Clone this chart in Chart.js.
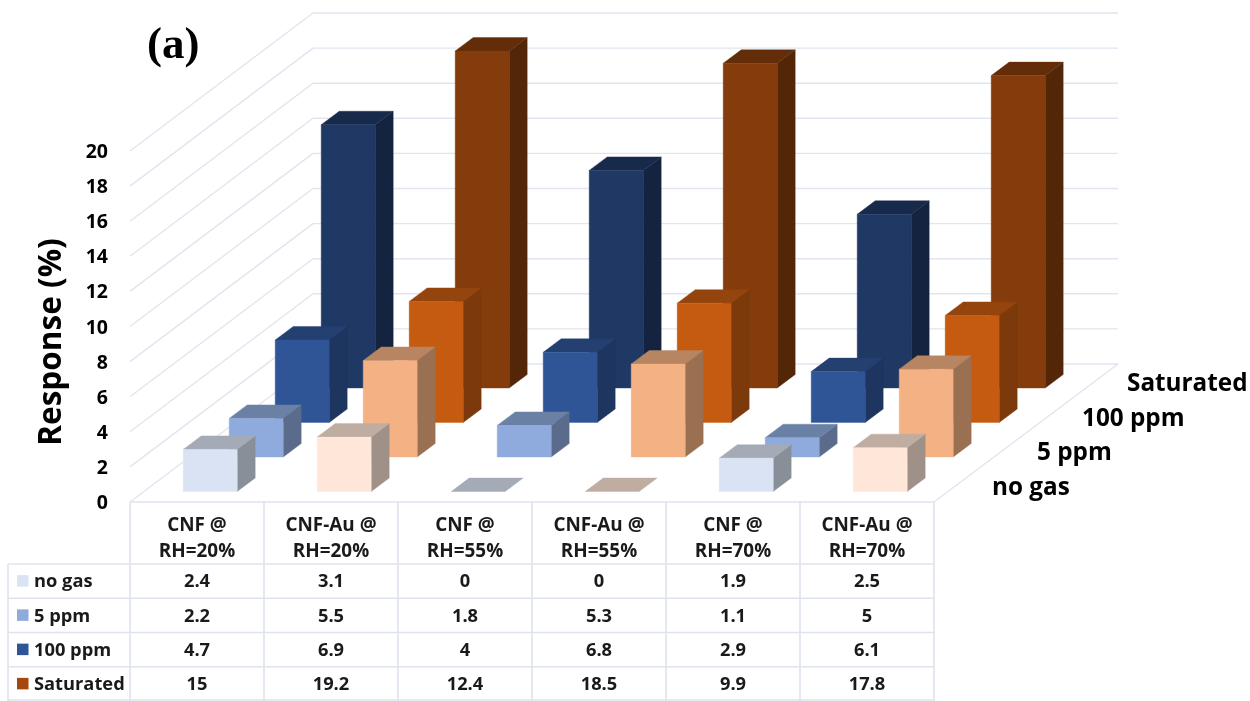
<!DOCTYPE html>
<html>
<head>
<meta charset="utf-8">
<style>html,body{margin:0;padding:0;background:#fff}canvas{display:block}</style>
<script src="https://cdn.jsdelivr.net/npm/chart.js@4"></script>
</head>
<body>
<canvas id="c" width="1250" height="701"></canvas>
<script>
const categories = [["CNF @","RH=20%"],["CNF-Au @","RH=20%"],["CNF @","RH=55%"],["CNF-Au @","RH=55%"],["CNF @","RH=70%"],["CNF-Au @","RH=70%"]];
const seriesNames = ["no gas","5 ppm","100 ppm","Saturated"];
const noGas = [2.4,3.1,0,0,1.9,2.5];
const ppm5 = [2.2,5.5,1.8,5.3,1.1,5];
const ppm100 = [4.7,6.9,4,6.8,2.9,6.1];
const saturated = [15,19.2,12.4,18.5,9.9,17.8];
const seriesValues = [noGas,ppm5,ppm100,saturated];
const cnfColors = ["#dae3f3","#8faadc","#2f5597","#203864"];
const auColors = ["#fee6d8","#f4b183","#c55a11","#843c0c"];
const keyColors = ["#dae3f3","#8faadc","#2f5597","#a5470f"];
const yAxisLabel = "Response (%)";
const panelLabel = "(a)";

const FONT = '"Open Sans"';
const GRID = "#e2e5ef";
const TABLE = "#dfe3ee";
const ROW_DX = 46, ROW_DY = 34.5, BAR_DX = 18, BAR_DY = 13.5;
const ROW_COUNT = seriesNames.length;

function shade(hex, f){
  const n = parseInt(hex.slice(1),16);
  const c = [n>>16,(n>>8)&255,n&255].map(v=>Math.round(v*f));
  return `rgb(${c[0]},${c[1]},${c[2]})`;
}
function poly(ctx, pts, fill){
  ctx.beginPath();
  pts.forEach((p,i)=> i?ctx.lineTo(p[0],p[1]):ctx.moveTo(p[0],p[1]));
  ctx.closePath();
  ctx.fillStyle = fill; ctx.strokeStyle = fill; ctx.lineWidth = 0.4;
  ctx.fill(); ctx.stroke();
}
function line(ctx,x1,y1,x2,y2){ctx.beginPath();ctx.moveTo(x1,y1);ctx.lineTo(x2,y2);ctx.stroke();}

const nudgeTicks = {
  id:"nudgeTicks",
  beforeDraw(chart){
    const y = chart.scales.y;
    y.getLabelItems(chart.chartArea).forEach(item=>{
      if(!item.nudged){item.nudged = true; item.textOffset += 1.5;}
    });
  }
};
const walls = {
  id:"walls",
  beforeDatasetsDraw(chart){
    const {ctx,scales:{x,y}} = chart;
    const L=x.left,R=x.right,D=ROW_DX*ROW_COUNT,H=ROW_DY*ROW_COUNT;
    ctx.save();
    ctx.strokeStyle = GRID; ctx.lineWidth = 1.4;
    y.ticks.forEach(t=>{
      const py = y.getPixelForValue(t.value);
      line(ctx,L,py,L+D-1,py-H);
      line(ctx,L+D-1,py-H,R+D,py-H);
    });
    const y0 = y.getPixelForValue(0);
    line(ctx,R,y0,R+D,y0-H);
    ctx.restore();
  }
};
const bars3d = {
  id:"bars3d",
  beforeDatasetDraw(chart,args){
    const {ctx} = chart;
    const row = args.index;
    const ds = chart.data.datasets[row];
    const sx = (ROW_DX-BAR_DX)/2 + row*ROW_DX - 0.8;
    const sy = (ROW_DY-BAR_DY)/2 + row*ROW_DY;
    ctx.save();
    args.meta.data.forEach((el,i)=>{
      const col = ds.backgroundColor[i];
      const x0 = el.x-el.width/2+sx, x1 = el.x+el.width/2+sx;
      const top = el.y-sy, base = el.base-sy;
      if(base-top>0){
        poly(ctx,[[x1,top],[x1+BAR_DX,top-BAR_DY],[x1+BAR_DX,base-BAR_DY],[x1,base]],shade(col,0.63));
      }
      poly(ctx,[[x0,top],[x0+BAR_DX,top-BAR_DY],[x1+BAR_DX,top-BAR_DY],[x1,top]],shade(col,0.75));
      if(base-top>0) poly(ctx,[[x0,top],[x1,top],[x1,base],[x0,base]],col);
    });
    ctx.restore();
    return false;
  }
};
const annotate = {
  id:"annotate",
  afterDraw(chart){
    const {ctx,scales:{x,y}} = chart;
    const colW = (x.right-x.left)/categories.length;
    const H = chart.height;
    const headBottom = 564, rowH = (H-headBottom)/ROW_COUNT, tableLeft = 8;
    ctx.save();
    ctx.strokeStyle = TABLE; ctx.lineWidth = 1.6;
    line(ctx,x.left,y.bottom,x.right,y.bottom);
    for(let i=0;i<=categories.length;i++){
      const px = x.left+i*colW;
      line(ctx,px,y.bottom,px,H);
    }
    line(ctx,tableLeft,headBottom,tableLeft,H);
    for(let r=0;r<=ROW_COUNT;r++){
      const py = Math.min(headBottom+r*rowH,H-1);
      line(ctx,tableLeft,py,x.right,py);
    }
    ctx.textBaseline = "middle";
    seriesNames.forEach((name,r)=>{
      const cy = headBottom+(r+0.5)*rowH;
      ctx.fillStyle = keyColors[r];
      ctx.fillRect(17,cy-6,11.5,11.5);
      ctx.fillStyle = "#1a1a1a";
      ctx.textAlign = "left";
      ctx.font = `bold 18.3px ${FONT}`;
      ctx.fillText(name,34,cy+1);
      ctx.textAlign = "center";
      seriesValues[r].forEach((v,i)=>{
        ctx.fillText(String(v),x.getPixelForValue(i),cy+1);
      });
    });
    ctx.fillStyle = "#000";
    ctx.textAlign = "left";
    ctx.font = `bold 24.3px ${FONT}`;
    seriesNames.forEach((name,r)=>{
      ctx.fillText(name,992+r*45,y.bottom-14-r*ROW_DY);
    });
    ctx.font = 'bold 45px "Liberation Serif"';
    ctx.fillText(panelLabel,147,46);
    ctx.save();
    ctx.translate(52,342);
    ctx.rotate(-Math.PI/2);
    ctx.textAlign = "center";
    ctx.font = `bold 31.5px ${FONT}`;
    ctx.fillText(yAxisLabel,0,0);
    ctx.restore();
    ctx.restore();
  }
};

new Chart(document.getElementById("c"),{
  type:"bar",
  data:{
    labels:categories,
    datasets:seriesNames.map((name,r)=>({
      label:name,
      data:seriesValues[r],
      backgroundColor:categories.map((_,i)=>(i%2?auColors:cnfColors)[r])
    }))
  },
  options:{
    responsive:false,
    animation:false,
    layout:{padding:{top:151,right:316,bottom:0,left:0}},
    datasets:{bar:{grouped:false,barPercentage:54/134,categoryPercentage:1}},
    plugins:{legend:{display:false},title:{display:false},tooltip:{enabled:false}},
    scales:{
      x:{
        grid:{display:false},border:{display:false},
        afterFit(s){s.height=199;},
        ticks:{color:"#1a1a1a",maxRotation:0,autoSkip:false,padding:3,font:{family:"Open Sans",weight:"bold",size:18.9,lineHeight:1.38}}
      },
      y:{
        min:0,max:20,
        grid:{display:false},border:{display:false},
        afterFit(s){s.width=130;},
        ticks:{stepSize:2,color:"#000",padding:14,font:{family:"Open Sans",weight:"bold",size:19.5}}
      }
    }
  },
  plugins:[nudgeTicks,walls,bars3d,annotate]
});
</script>
</body>
</html>
